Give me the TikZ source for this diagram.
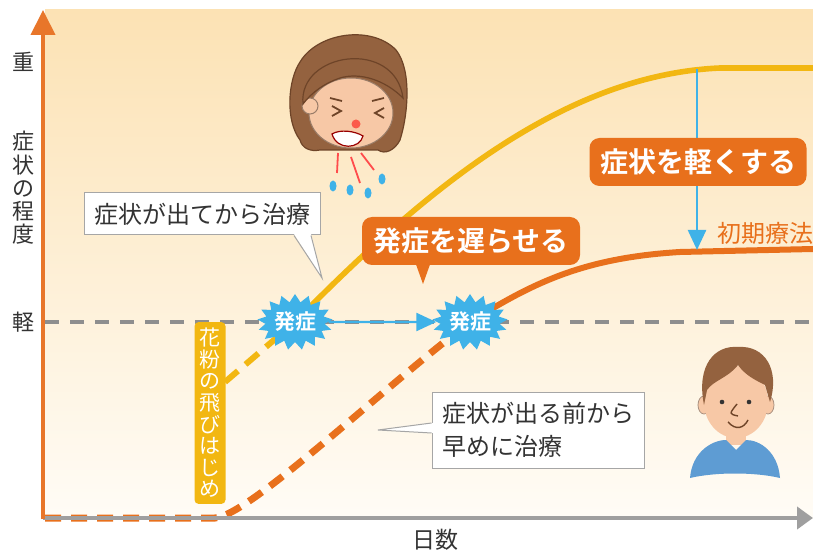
\documentclass[tikz,border=0pt]{standalone}
\usepackage{fontspec}
\setmainfont{Noto Sans CJK JP}[BoldFont={Noto Sans CJK JP Bold}]
\usetikzlibrary{arrows.meta,shapes.symbols,calc}

\definecolor{axisorange}{HTML}{E8762A}
\definecolor{curveorange}{HTML}{E8701C}
\definecolor{curveyellow}{HTML}{F2B712}
\definecolor{burstblue}{HTML}{3FB2E8}
\definecolor{guidegray}{HTML}{8E8E8E}
\definecolor{bgtop}{HTML}{FCE2B4}
\definecolor{bgbottom}{HTML}{FFFCF6}
\definecolor{hair}{HTML}{94623F}
\definecolor{hairline}{HTML}{6E4428}
\definecolor{skin}{HTML}{F7C8A6}
\definecolor{shirt}{HTML}{5E9CD3}
\definecolor{textgray}{HTML}{333333}

\tikzset{
  onset/.style={shape=starburst, random starburst=0, starburst points=17,
    starburst point height=4pt, fill=burstblue, minimum width=33pt,
    minimum height=28pt, inner sep=0pt, text=white,
    font=\bfseries\fontsize{10.5}{11}\selectfont},
  tagbox/.style={fill=curveorange, rounded corners=5pt, text=white,
    font=\bfseries\fontsize{14}{16}\selectfont, inner sep=0pt, minimum height=24pt},
  notebox/.style={fill=white, draw=gray!70, line width=0.5pt, text=textgray,
    font=\fontsize{12}{16.5}\selectfont, align=left, inner xsep=5pt, inner ysep=3pt},
  axislabel/.style={text=textgray, font=\fontsize{11}{11.6}\selectfont,
    align=center, inner sep=0pt},
  bluearrow/.style={burstblue, line width=1.2pt, -{Triangle[length=10pt,width=9pt]}},
}

\begin{document}
\begin{tikzpicture}[x=0.5pt,y=-0.5pt]
\useasboundingbox (0,0) rectangle (813,555);
\shade[top color=bgtop, bottom color=bgbottom] (45,10) rectangle (813,518);

% threshold line for symptoms
\draw[guidegray, line width=2pt, dash pattern=on 7pt off 5.5pt] (45,322) -- (813,322);

\coordinate (on1) at (295,322);
\coordinate (on2) at (470,322);
\coordinate (peak) at (697,69);
\coordinate (low) at (697,250);

% severity curves
\draw[curveyellow, line width=3pt, dash pattern=on 8.5pt off 5pt] (225,382) -- (on1);
\draw[curveyellow, line width=2.8pt] (on1) .. controls (420,195) and (560,75) .. (720,68) -- (813,68);
\draw[curveorange, line width=3.5pt, dash pattern=on 8pt off 5pt] (45,518) -- (215,518)
  .. controls (250,515) and (380,390) .. (on2);
\draw[curveorange, line width=3pt] (on2) .. controls (530,285) and (580,258) .. (680,252) -- (813,249);

% axes
\draw[guidegray!85, line width=2pt, -{Triangle[length=8pt,width=11pt]}] (43,518) -- (813,518);
\draw[axisorange, line width=2pt, -{Triangle[length=12.5pt,width=12pt]}] (43,519) -- (43,10);
\node[axislabel] (heavy) at (23,62) {重};
\node[axislabel] (degree) at (23,188) {症\\状\\の\\程\\度};
\node[axislabel] (light) at (23,322) {軽};
\node[axislabel, font=\fontsize{11.5}{12}\selectfont] (days) at (435,540) {日数};

% relief arrow
\draw[bluearrow] (peak) -- (low);
\node[tagbox, minimum width=108.5pt] (relief) at (698,162) {症状を軽くする};
\node[anchor=west, text=curveorange, inner sep=0pt, font=\fontsize{12}{12}\selectfont] (therapy) at (717,233) {初期療法};

% onset bursts
\node[onset] (onset1) at (on1) {発症};
\node[onset] (onset2) at (on2) {発症};
\draw[bluearrow] (onset1) -- (onset2);

% delay tag with pointer
\node[tagbox, minimum width=109pt] (delay) at (471,241) {発症を遅らせる};
\coordinate (delaytip) at (423,284);
\fill[curveorange] ($(delay.south)+(-55,-1)$) -- (delaytip) -- ($(delay.south)+(-41,-1)$) -- cycle;

% pollen start label
\node[fill=curveyellow, rounded corners=2pt, text=white, inner xsep=2pt, inner ysep=3pt,
  minimum width=15.5pt, align=center, font=\fontsize{10.5}{10.8}\selectfont] (pollen)
  at (210,413) {花\\粉\\の\\飛\\び\\は\\じ\\め};

% note callouts
\node[notebox, minimum width=117.5pt, minimum height=21pt] (late) at (202.5,214) {症状が出てから治療};
\coordinate (latetip) at (322,278);
\fill[white] ($(late.south east)+(-27,-1.5)$) -- (latetip) -- ($(late.south east)+(-10,-1.5)$) -- cycle;
\draw[gray!70, line width=0.5pt] ($(late.south east)+(-27,0)$) -- (latetip) -- ($(late.south east)+(-10,0)$);

\node[notebox, minimum width=105pt, minimum height=38pt] (early) at (538,430) {症状が出る前から\\早めに治療};
\coordinate (earlytip) at (378,430);
\fill[white] ($(early.west)+(1.5,-7)$) -- (earlytip) -- ($(early.west)+(1.5,3)$) -- cycle;
\draw[gray!70, line width=0.5pt] ($(early.west)+(0,-7)$) -- (earlytip) -- ($(early.west)+(0,3)$);

% sneezing face
\fill[hair, draw=hairline, line width=0.6pt] (300,140) .. controls (285,120) and (288,80) .. (300,62)
  .. controls (318,32) and (372,25) .. (396,50) .. controls (412,70) and (408,115) .. (400,140)
  .. controls (395,150) and (385,155) .. (378,150) -- (320,150) .. controls (310,152) and (302,148) .. cycle;
\fill[skin, draw=hairline!70, line width=0.5pt] (351,113) ellipse [x radius=42, y radius=35];
\fill[skin, draw=hairline!70, line width=0.5pt] (310,106) circle (8);
\fill[hair, draw=hairline, line width=0.6pt] (303,104) .. controls (298,52) and (395,38) .. (403,98)
  .. controls (385,80) and (360,72) .. (340,78) .. controls (325,83) and (312,92) .. cycle;
\draw[hairline, line width=0.9pt] (330,98) -- (342,101) (372,101) -- (384,98);
\draw[hairline, line width=0.9pt] (332,106) -- (341,111) -- (332,116);
\draw[hairline, line width=0.9pt] (384,108) -- (375,113) -- (384,118);
\fill[red!55!skin] (356,124) circle (4.5);
\filldraw[fill=white, draw=red!60!black, line width=0.6pt] (332,134) .. controls (340,129) and (355,131) .. (363,136)
  .. controls (360,149) and (337,151) .. cycle;
\draw[red!70!white, line width=0.9pt] (338,153) -- (337,173) (351,157) -- (360,183) (361,153) -- (374,170);
\foreach \dx/\dy in {333/186, 350/190, 368/193, 382/179}
  \fill[burstblue] (\dx,\dy) ellipse [x radius=3.5, y radius=5.5];

% smiling face
\fill[skin] (726,425) rectangle (746,445);
\fill[shirt] (690,478) .. controls (692,452) and (712,440) .. (726,440) -- (736,450) -- (746,440)
  .. controls (760,440) and (778,452) .. (780,478) .. controls (755,472) and (715,472) .. cycle;
\fill[skin, draw=hairline!60, line width=0.4pt] (704,405) ellipse [x radius=6, y radius=9];
\fill[skin, draw=hairline!60, line width=0.4pt] (768,405) ellipse [x radius=6, y radius=9];
\fill[skin] (736,402) ellipse [x radius=32, y radius=36];
\fill[hair] (704,405) .. controls (696,365) and (715,345) .. (738,347) .. controls (765,345) and (780,370) .. (770,402)
  -- (765,385) .. controls (755,380) and (745,375) .. (738,365) .. controls (728,378) and (714,380) .. (707,390) -- cycle;
\fill[black!80] (722,402) circle (2.3) (749,402) circle (2.3);
\draw[hairline, line width=0.7pt] (737,404) .. controls (729,414) .. (738,416);
\draw[hairline, line width=0.7pt] (728,422) .. controls (736,431) and (744,428) .. (748,420);
\end{tikzpicture}
\end{document}
